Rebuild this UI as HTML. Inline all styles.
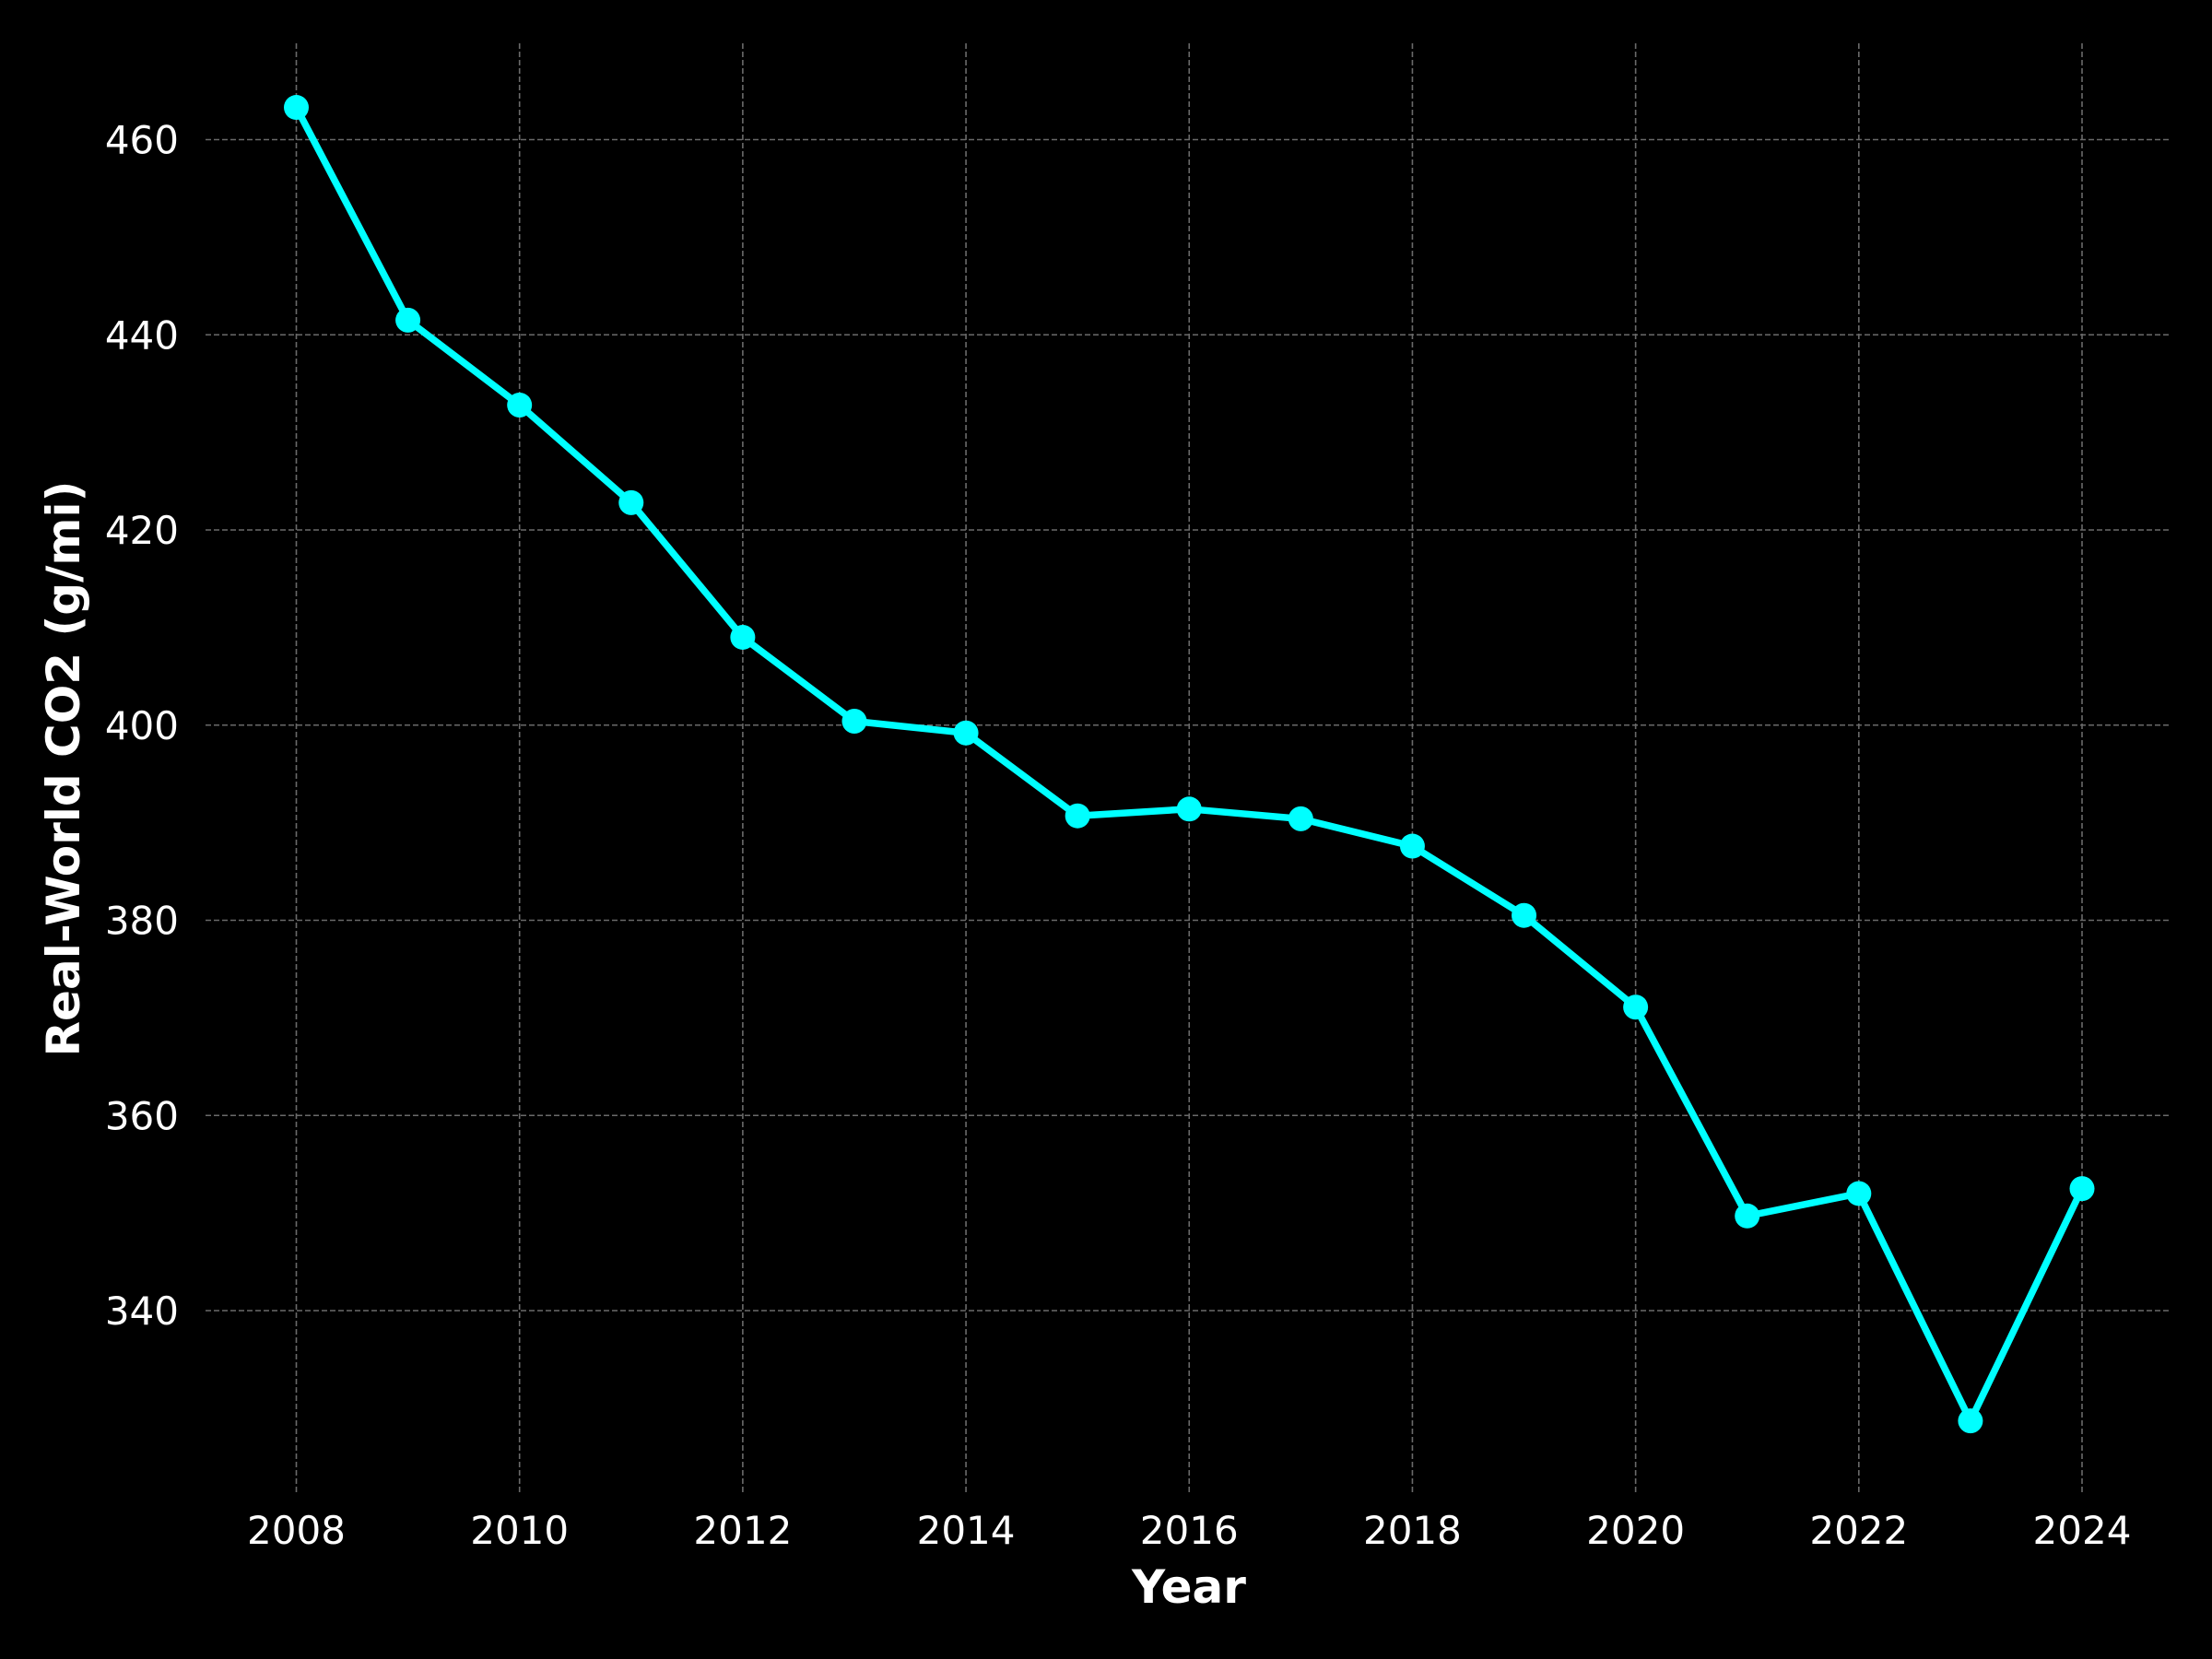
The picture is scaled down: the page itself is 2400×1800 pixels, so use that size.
<!DOCTYPE html>
<html><head><meta charset="utf-8"><style>
html,body{margin:0;padding:0;background:#000;}
svg{display:block;}
text{font-family:"DejaVu Sans","Liberation Sans",sans-serif;fill:#fff;}
</style></head><body>
<svg id="chart" width="2400" height="1800" viewBox="0 0 2400 1800" xmlns="http://www.w3.org/2000/svg">
<rect width="2400" height="1800" fill="#000"/>
<g id="grid"></g>
<g id="ticks"></g>
<g id="series"></g>
<text x="1290" y="1739" text-anchor="middle" font-size="50" font-weight="bold">Year</text>
<text transform="translate(86,834) rotate(-90)" text-anchor="middle" font-size="50" font-weight="bold">Real-World CO2 (g/mi)</text>
</svg>
<script>
const years = [2008,2009,2010,2011,2012,2013,2014,2015,2016,2017,2018,2019,2020,2021,2022,2023,2024];
const co2 = [463.3,441.5,432.8,422.8,409.0,400.4,399.2,390.7,391.4,390.4,387.6,380.5,371.1,349.7,352.0,328.7,352.5];
const xTicks = [2008,2010,2012,2014,2016,2018,2020,2022,2024];
const yTicks = [340,360,380,400,420,440,460];

const NS = "http://www.w3.org/2000/svg";
const L = 223, R = 2354, T = 47, B = 1622;
function xs(v){ return 321.5 + (v - 2008) * (2259 - 321.5) / 16; }
function ys(v){ return 151.5 + (460 - v) * (1270.5 / 120); }
function mk(tag, attrs, parent){
  const e = document.createElementNS(NS, tag);
  for (const k in attrs) e.setAttribute(k, attrs[k]);
  parent.appendChild(e);
  return e;
}
const grid = document.getElementById('grid');
const ticks = document.getElementById('ticks');
const series = document.getElementById('series');

xTicks.forEach(t => {
  const x = xs(t);
  const g = mk('line', {x1:x, x2:x, y1:T, y2:B, stroke:'#6a6a6a', 'stroke-width':1.6, 'stroke-dasharray':'6,3'}, grid);
  
  
  const lb = mk('text', {x:x, y:1675, 'text-anchor':'middle', 'font-size':42}, ticks);
  lb.textContent = t;
  
  
});
yTicks.forEach(t => {
  const y = ys(t);
  const g = mk('line', {x1:L, x2:R, y1:y, y2:y, stroke:'#6a6a6a', 'stroke-width':1.6, 'stroke-dasharray':'6,3'}, grid);
  
  
  const lb = mk('text', {x:194, y:y + 15, 'text-anchor':'end', 'font-size':42}, ticks);
  lb.textContent = t;
  
  
});
const pts = years.map((yr, i) => xs(yr) + ',' + ys(co2[i])).join(' ');
const line = mk('polyline', {points:pts, fill:'none', stroke:'#00ffff', 'stroke-width':7.5, 'stroke-linejoin':'round'}, series);


years.forEach((yr, i) => {
  const c = mk('circle', {cx:xs(yr), cy:ys(co2[i]), r:13.5, fill:'#00ffff'}, series);
  
  
});
</script>
</body></html>
